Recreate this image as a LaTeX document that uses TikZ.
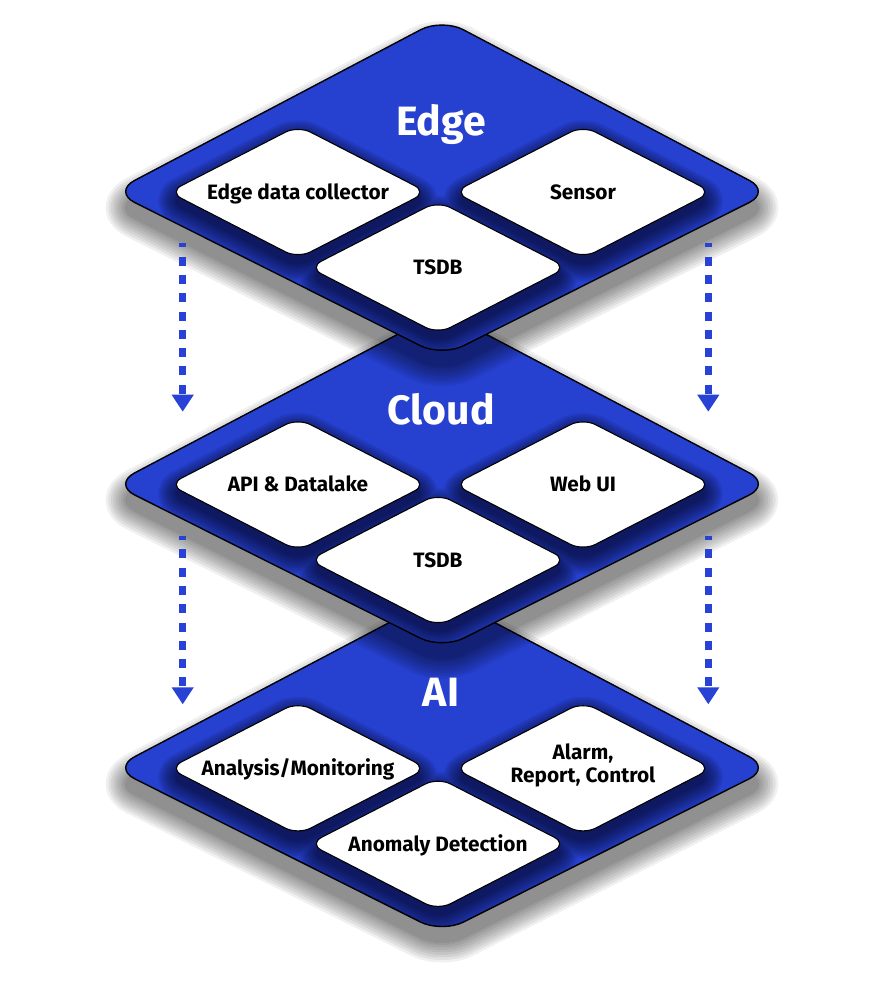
\documentclass[tikz,border=0pt]{standalone}
\usepackage{fontspec}
\setmainfont{Fira Sans}
\usetikzlibrary{arrows.meta}
\definecolor{layerblue}{RGB}{38,64,208}
\definecolor{shnavy}{RGB}{6,10,45}
\definecolor{arrblue}{RGB}{40,66,214}

\newcommand\BigShape[1]{(442,{#1+18.5}) -- (770.8,{#1+191.7}) -- (442,{#1+356.5}) -- (113.2,{#1+191.7}) -- cycle}
\newcommand\BoxShape[2]{({#1},{#2-66.3}) -- ({#1+129},{#2}) -- ({#1},{#2+66.3}) -- ({#1-129},{#2}) -- cycle}

\newcommand\Layer[7]{%
  % drop shadow of the layer
  \foreach \sd in {0,2.5,...,20} {
    \begin{scope}[transparency group, opacity=0.06]
      \filldraw[black, bigcorner, line join=round, line width={2*\sd pt}, shift={(0,16)}] \BigShape{#1};
    \end{scope}
  }
  % layer body
  \fill[layerblue, bigcorner] \BigShape{#1};
  % shadows of the white boxes on the layer
  \begin{scope}
    \clip[bigcorner] \BigShape{#1};
    \foreach \sd in {0,2,...,18} {
      \begin{scope}[transparency group, opacity=0.1]
        \filldraw[shnavy, boxcorner, line join=round, line width={2*\sd pt}, shift={(0,9)}]
          \BoxShape{298}{#1+192} \BoxShape{583}{#1+192} \BoxShape{438}{#1+267.5};
      \end{scope}
    }
  \end{scope}
  \draw[black, line width=1.4pt, bigcorner] \BigShape{#1};
  % white boxes
  \filldraw[whitebox] \BoxShape{298}{#1+192};
  \filldraw[whitebox] \BoxShape{583}{#1+192};
  \filldraw[whitebox] \BoxShape{438}{#1+267.5};
  % texts
  \node[titletext] (#6title) at (441,{#7}) {#2};
  \node[boxtext] (#6left) at (298,{#1+199.3}) {#3};
  \node[boxtext] (#6right) at (583,{#1+199.3}) {#4};
  \node[boxtext] (#6bottom) at (438,{#1+274.8}) {#5};
}

\begin{document}
\begin{tikzpicture}[x=1pt,y=-1pt,
  bigcorner/.style={rounded corners=24pt},
  boxcorner/.style={rounded corners=14pt},
  whitebox/.style={fill=white, draw=black, line width=1.1pt, boxcorner},
  titletext/.style={text=white, anchor=base, inner sep=0pt, font=\fontsize{41}{45}\selectfont\bfseries},
  boxtext/.style={text=black, anchor=base, inner sep=0pt, align=center, font=\fontsize{20.8}{23}\selectfont\bfseries},
  boxtexttwo/.style={text=black, anchor=center, inner sep=0pt, align=center, font=\fontsize{20.8}{23}\selectfont\bfseries},
  dasharrow/.style={arrblue, line width=6.7pt, dash pattern=on 9pt off 9.3pt, dash phase=5pt, -{Triangle[width=21pt,length=17pt]}}
]
\useasboundingbox (0,0) rectangle (886,989);
\fill[white] (0,0) rectangle (886,989);

\Layer{576.3}{AI}{Analysis/Monitoring}{}{Anomaly Detection}{ai}{706}
\node[boxtexttwo] (airight) at (583,{576.3+189.5}) {Alarm,\\Report, Control};
\Layer{292.5}{Cloud}{API \& Datalake}{Web UI}{TSDB}{cl}{424}
\Layer{0}{Edge}{Edge data collector}{Sensor}{TSDB}{ed}{135}

\coordinate (a1s) at (182.7,243.3);
\coordinate (a1e) at (182.7,411.7);
\coordinate (a2s) at (708.3,243.3);
\coordinate (a2e) at (708.3,411.7);
\coordinate (a3s) at (182.7,536);
\coordinate (a3e) at (182.7,704.3);
\coordinate (a4s) at (708.3,536);
\coordinate (a4e) at (708.3,704.3);
\draw[dasharrow] (a1s) -- (a1e);
\draw[dasharrow] (a2s) -- (a2e);
\draw[dasharrow] (a3s) -- (a3e);
\draw[dasharrow] (a4s) -- (a4e);
\end{tikzpicture}
\end{document}
